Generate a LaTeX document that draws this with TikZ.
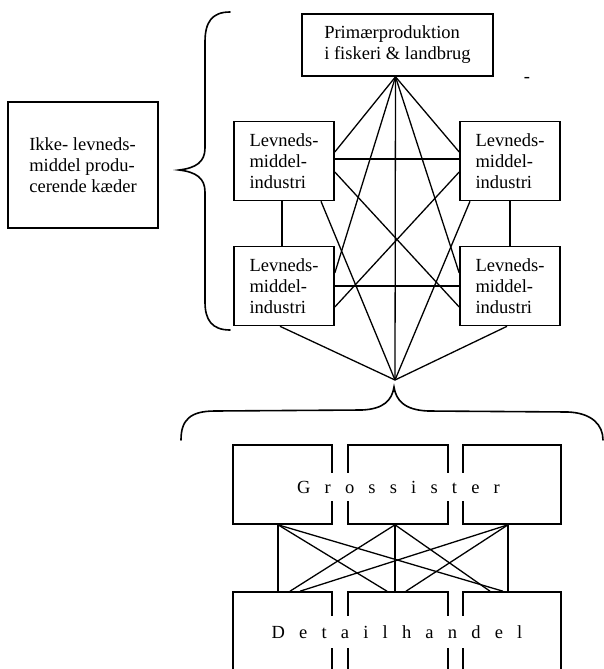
\documentclass[tikz,border=0pt]{standalone}
\usepackage{fontspec}
\setmainfont{Liberation Serif}
\newcommand\widesp{\spaceskip=14.2pt plus 0pt minus 0pt\relax}
\begin{document}
\begin{tikzpicture}[x=1pt,y=-1pt,
  txt/.style={font=\fontsize{18.5}{21}\selectfont},
  box/.style={txt, draw, line width=1.6pt, minimum width=100pt, minimum height=79pt, inner sep=0pt, align=left},
  gbox/.style={draw, line width=1.6pt, minimum width=99pt, minimum height=79pt, inner sep=0pt},
  spaced/.style={txt, fill=white, inner xsep=4pt, inner ysep=7.5pt},
  link/.style={line width=1.3pt},
  brace/.style={line width=1.6pt, line cap=round}]
\useasboundingbox (0,0) rectangle (604,669);

% upper part
\node[box, minimum width=191pt, minimum height=62pt] (P) at (397.5,45) {Primærproduktion\\i fiskeri \& landbrug};
\node[box] (LT) at (284,161) {Levneds-\\middel-\\industri};
\node[box] (RT) at (510,161) {Levneds-\\middel-\\industri};
\node[box] (LB) at (284,286) {Levneds-\\middel-\\industri};
\node[box] (RB) at (510,286) {Levneds-\\middel-\\industri};
\node[box, minimum width=150pt, minimum height=126pt] (K) at (83,165) {Ikke- levneds-\\middel produ-\\cerende kæder};
\node[txt, inner sep=0pt] (dash) at (527,80) {-};
\coordinate (C) at (395,380);

% links of the upper part
\draw[link] ([xshift=-2pt]P.south) -- ([yshift=9pt]LT.east);
\draw[link] ([xshift=-2pt]P.south) -- ([yshift=9pt]RT.west);
\draw[link] ([xshift=-2pt]P.south) -- ([yshift=13pt]LB.east);
\draw[link] ([xshift=-2pt]P.south) -- ([yshift=13pt]RB.west);
\draw[link] ([xshift=-2pt]P.south) -- (C);
\draw[link] ([yshift=2pt]LT.east) -- ([yshift=2pt]RT.west);
\draw[link] (LB.east) -- (RB.west);
\draw[link] ([yshift=-11pt]LT.east) -- ([yshift=-21pt]RB.west);
\draw[link] ([yshift=-11pt]RT.west) -- ([yshift=-21pt]LB.east);
\draw[link] ([xshift=-2pt]LT.south) -- ([xshift=-2pt]LB.north);
\draw[link] (RT.south) -- (RB.north);
\draw[link] ([xshift=37pt]LT.south) -- (C);
\draw[link] ([xshift=-40pt]RT.south) -- (C);
\draw[link] ([xshift=-4pt]LB.south) -- (C);
\draw[link] ([xshift=-3pt]RB.south) -- (C);

% braces
\draw[brace] (230,12) .. controls (212,12) and (205,22) .. (205,42) -- (205,148)
  .. controls (205,162) and (196,168) .. (179,170)
  .. controls (196,172) and (205,178) .. (205,192) -- (205,302)
  .. controls (205,320) and (212,330) .. (230,330);
\draw[brace] (181,440) .. controls (181,420) and (190,411) .. (215,411) -- (362,410)
  .. controls (384,409) and (392,400) .. (394,387)
  .. controls (396,400) and (404,410) .. (428,411) -- (568,412)
  .. controls (592,413) and (603,425) .. (603,440);

% lower part
\begin{scope}
\clip (0,0) rectangle (604,669);
\node[gbox] (G1) at (282.5,484.5) {};
\node[gbox, minimum width=100pt] (G2) at (398,484.5) {};
\node[gbox, minimum width=98pt] (G3) at (512,484.5) {};
\node[gbox, minimum height=120pt] (D1) at (282.5,652) {};
\node[gbox, minimum width=100pt, minimum height=120pt] (D2) at (398,652) {};
\node[gbox, minimum width=98pt, minimum height=120pt] (D3) at (512,652) {};
\end{scope}
\node[spaced] (GT) at (398.5,487) {\widesp G r o s s i s t e r};
\node[spaced, inner ysep=9pt] (DT) at (397,632) {\widesp D e t a i l h a n d e l};

% links of the lower part
\draw[link] ([xshift=-4.5pt]G1.south) -- ([xshift=-4.5pt]D1.north);
\draw[link] ([xshift=-4.5pt]G1.south) -- ([xshift=-11pt]D2.north);
\draw[link] ([xshift=-4.5pt]G1.south) -- ([xshift=-9pt]D3.north);
\draw[link] ([xshift=-3pt]G2.south) -- ([xshift=7.5pt]D1.north);
\draw[link] ([xshift=-3pt]G2.south) -- ([xshift=-3pt]D2.north);
\draw[link] ([xshift=-3pt]G2.south) -- ([xshift=-22pt]D3.north);
\draw[link] ([xshift=-4pt]G3.south) -- ([xshift=17.5pt]D1.north);
\draw[link] ([xshift=-4pt]G3.south) -- ([xshift=8pt]D2.north);
\draw[link] ([xshift=-4pt]G3.south) -- ([xshift=-4pt]D3.north);
\end{tikzpicture}
\end{document}
